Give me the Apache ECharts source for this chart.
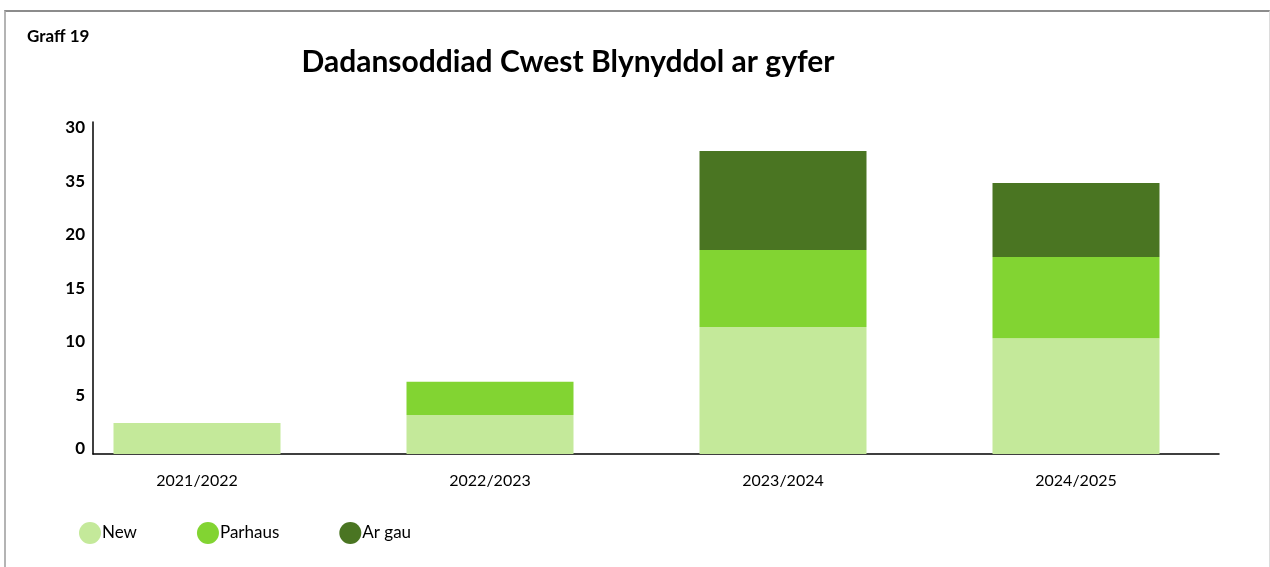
<!DOCTYPE html>
<html>
<head>
<meta charset="utf-8">
<script src="https://cdn.jsdelivr.net/npm/echarts@6/dist/echarts.min.js"></script>
<style>
  html, body { margin: 0; padding: 0; background: #fff; }
  #frame {
    position: absolute; left: 4px; top: 10px; width: 1263px; height: 570px;
    border-top: 2px solid #8c8c8c; border-left: 2px solid #b4b4b4; border-right: 1px solid #dcdcdc;
  }
  #chart { position: absolute; left: 0; top: 0; width: 1270px; height: 567px; }
</style>
</head>
<body>
<div id="frame"></div>
<div id="chart"></div>
<script>
// categories and stacked values
const years = ['2021/2022', '2022/2023', '2023/2024', '2024/2025']
const newData = [2.9, 3.65, 11.85, 10.8]
const parhausData = [0, 3.1, 7.2, 7.6]
const argauData = [0, 0, 9.25, 6.9]
// tick labels as printed on the original (the top two are as shown)
const yTickLabels = ['0', '5', '10', '15', '20', '35', '30']

const colors = ['#c4e99a', '#82d432', '#4a7522']
const font = 'Lato, "Open Sans", sans-serif'

let myChart = echarts.init(document.getElementById('chart'))
let option = {
  textStyle: { fontFamily: font },
  title: [
    {
      text: 'Graff 19',
      left: 27,
      top: 28,
      padding: 0,
      textStyle: { fontSize: 17, fontWeight: 'bold', color: '#000', fontFamily: font }
    },
    {
      text: 'Dadansoddiad Cwest Blynyddol ar gyfer',
      left: 568,
      top: 47,
      padding: 0,
      textAlign: 'center',
      textStyle: { fontSize: 30, fontWeight: 'bold', color: '#000', fontFamily: font }
    }
  ],
  color: colors,
  legend: {
    left: 79,
    top: 522,
    padding: 0,
    icon: 'circle',
    itemWidth: 22,
    itemHeight: 22,
    itemGap: 60,
    textStyle: { fontSize: 17, color: '#000', fontFamily: font, padding: [0, 0, 0, -4] },
    data: ['New', 'Parhaus', 'Ar gau']
  },
  grid: [
    // bars
    { left: 50.5, right: 47.5, top: 122, bottom: 113 },
    // axis lines
    { left: 93, right: 51, top: 122, bottom: 113 }
  ],
  xAxis: [
    {
      type: 'category',
      gridIndex: 0,
      data: years,
      axisLine: { show: false },
      axisTick: { show: false },
      axisLabel: { margin: 19, fontSize: 16, color: '#000', fontFamily: font }
    },
    {
      type: 'category',
      gridIndex: 1,
      data: years,
      axisLine: { lineStyle: { color: '#000', width: 1.5 } },
      axisTick: { show: false },
      axisLabel: { show: false }
    }
  ],
  yAxis: [
    {
      type: 'value',
      gridIndex: 0,
      min: 0,
      max: 31,
      interval: 5,
      show: false,
      splitLine: { show: false }
    },
    {
      type: 'value',
      gridIndex: 1,
      min: 0,
      max: 31,
      interval: 5,
      splitLine: { show: false },
      axisLine: { show: true, lineStyle: { color: '#000', width: 1.5 } },
      axisTick: { show: false },
      axisLabel: {
        showMaxLabel: false,
        margin: 8,
        formatter: function (value) {
          let i = Math.round(value / 5)
          return yTickLabels[i] !== undefined ? '{t|' + yTickLabels[i] + '}' : ''
        },
        rich: {
          t: {
            fontSize: 17,
            fontWeight: 'bold',
            color: '#000',
            fontFamily: font,
            padding: [0, 0, 10, 0]
          }
        }
      }
    }
  ],
  series: [
    { name: 'New', type: 'bar', stack: 'total', barWidth: 167, xAxisIndex: 0, yAxisIndex: 0, data: newData },
    { name: 'Parhaus', type: 'bar', stack: 'total', barWidth: 167, xAxisIndex: 0, yAxisIndex: 0, data: parhausData },
    { name: 'Ar gau', type: 'bar', stack: 'total', barWidth: 167, xAxisIndex: 0, yAxisIndex: 0, data: argauData }
  ]
}
myChart.setOption(option)
</script>
</body>
</html>
